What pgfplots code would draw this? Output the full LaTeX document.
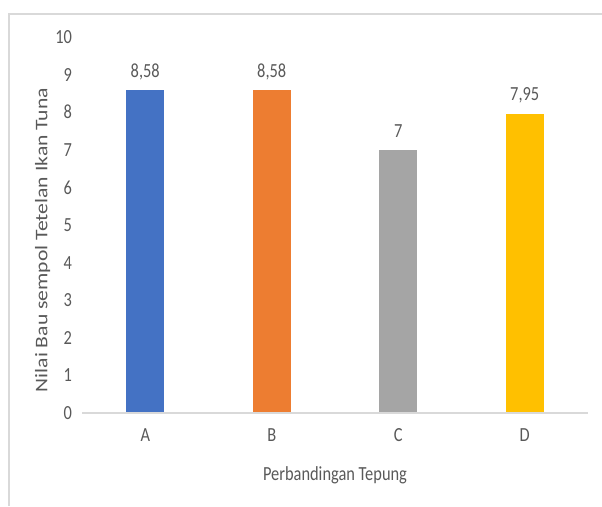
\documentclass[border=0pt]{standalone}
\usepackage{fontspec}
\setmainfont{Carlito}[FakeStretch=0.82]
\newfontfamily\ylfont{Carlito}[FakeStretch=1.22]
\usepackage{pgfplots}
\pgfplotsset{compat=1.18}
\definecolor{txt}{RGB}{89,89,89}
\definecolor{axl}{RGB}{217,217,217}
\definecolor{cA}{RGB}{68,114,196}
\definecolor{cB}{RGB}{237,125,49}
\definecolor{cC}{RGB}{165,165,165}
\definecolor{cD}{RGB}{255,192,0}
\begin{document}
\begin{tikzpicture}[x=1pt,y=1pt]
\useasboundingbox (-61.5,-69.75) rectangle (390,309.75);
\draw[axl, line width=1.3pt] (-54.75,-69.75) -- (-54.75,299.25) -- (390,299.25);
\begin{axis}[
  at={(0,0)}, anchor=south west,
  scale only axis, width=379.5pt, height=282pt,
  xmin=-0.5, xmax=3.5, ymin=0, ymax=10,
  ytick={0,1,...,10},
  xtick={0,1,2,3}, xticklabels={A,B,C,D},
  axis lines=left,
  x axis line style={draw=none},
  y axis line style={draw=none},
  major tick length=0pt,
  /pgf/number format/assume math mode=true,
  ticklabel style={font=\fontsize{15}{17}\selectfont, text=txt},
  yticklabel style={xshift=-4pt},
  xticklabel style={yshift=-8pt},
  xlabel={Perbandingan Tepung},
  ylabel={Nilai Bau sempol Tetelan Ikan Tuna},
  xlabel style={font=\fontsize{15}{17}\selectfont, text=txt, at={(axis description cs:0.5,0)}, anchor=center, yshift=-47pt},
  ylabel style={font=\ylfont\fontsize{13.3}{16}\selectfont, text=txt, at={(axis description cs:-0.078,0.46)}, anchor=center},
  ybar, bar width=0.3, bar shift=0pt,
  nodes near coords,
  point meta=explicit symbolic,
  nodes near coords style={font=\fontsize{15}{17}\selectfont, text=txt, anchor=center, yshift=14pt},
  clip=false,
]
\addplot[draw=none, fill=cA] coordinates {(0,8.58) [8,58]};
\addplot[draw=none, fill=cB] coordinates {(1,8.58) [8,58]};
\addplot[draw=none, fill=cC] coordinates {(2,7) [7]};
\addplot[draw=none, fill=cD] coordinates {(3,7.95) [7,95]};
\draw[axl, line width=1.3pt] (axis cs:-0.5,0) -- (axis cs:3.5,0);
\end{axis}
\end{tikzpicture}
\end{document}
